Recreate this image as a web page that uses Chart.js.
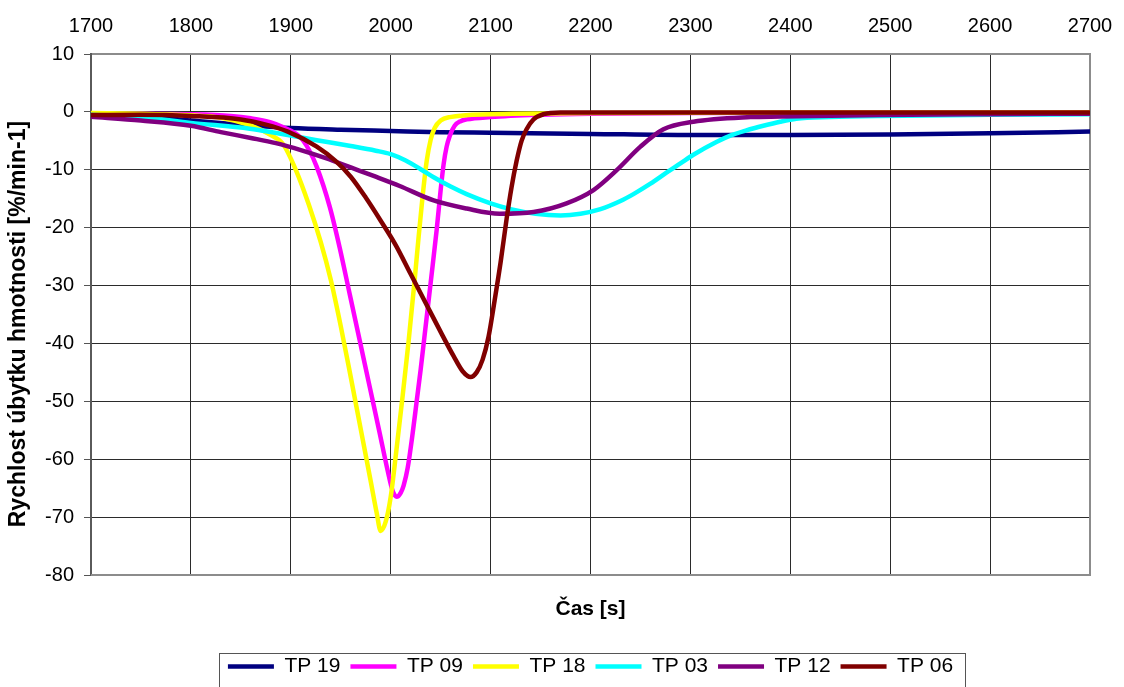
<!DOCTYPE html>
<html lang="cs">
<head>
    <meta charset="UTF-8">
    <title>Rychlost úbytku hmotnosti</title>
    <script src="https://cdn.jsdelivr.net/npm/chart.js"></script>
    <style>
        body { margin: 0; background: #fff; }
        canvas { display: block; }
    </style>
</head>
<body>
    <canvas id="dtgChart" width="1124" height="687"></canvas>

    <script>
        // time [s] and mass-loss rate [%/min-1] for each sample
        const tp19Time = [1700, 1750, 1800, 1850, 1900, 1950, 2000, 2050, 2100, 2200, 2300, 2400, 2500, 2600, 2700];
        const tp19Rate = [-0.3, -0.7, -1.5, -2.2, -2.8, -3.1, -3.3, -3.5, -3.6, -3.8, -4.0, -4.0, -3.9, -3.7, -3.4];

        const tp09Time = [1700, 1750, 1800, 1840, 1860, 1880, 1892, 1909, 1918, 1926, 1939, 1949, 1959, 1969, 1979, 1989, 1997, 2002, 2006, 2010, 2013, 2017, 2022, 2026, 2030, 2034, 2040, 2046, 2050, 2053, 2056, 2059, 2064, 2070, 2076, 2100, 2150, 2200, 2300, 2500, 2700];
        const tp09Rate = [-0.4, -0.3, -0.4, -0.7, -1.1, -1.8, -2.6, -4.3, -6.5, -9.5, -16.4, -23.5, -31.5, -39.5, -47.5, -55.5, -62, -65.5, -66.5, -65.8, -64.5, -61.5, -55.5, -50, -44.5, -38.5, -29.5, -20.4, -13.5, -9.0, -6.0, -4.2, -2.4, -1.6, -1.3, -0.9, -0.5, -0.3, -0.2, -0.1, -0.1];

        const tp18Time = [1700, 1750, 1800, 1830, 1859, 1880, 1892, 1905, 1918, 1930, 1940, 1950, 1960, 1970, 1980, 1986, 1990, 1995, 2000, 2006, 2012, 2018, 2024, 2028, 2032, 2036, 2040, 2044, 2050, 2059, 2100, 2200, 2400, 2700];
        const tp18Rate = [-0.2, -0.3, -0.6, -1.0, -2.3, -4.0, -5.5, -10, -16, -22.5, -29, -37, -45.8, -54.8, -63.8, -69.3, -72.4, -70.8, -66.5, -58, -49, -39.5, -29, -21.5, -14.5, -8.5, -4.8, -2.8, -1.5, -0.9, -0.4, -0.2, -0.1, -0.1];

        const tp03Time = [1700, 1750, 1800, 1859, 1887, 1926, 1960, 1985, 2000, 2015, 2030, 2043, 2060, 2076, 2100, 2120, 2145, 2170, 2190, 2210, 2230, 2243, 2260, 2276, 2290, 2303, 2326, 2340, 2356, 2373, 2390, 2406, 2440, 2490, 2600, 2700];
        const tp03Rate = [-0.5, -0.9, -1.9, -2.9, -3.7, -4.9, -5.9, -6.7, -7.3, -8.4, -9.9, -11.3, -12.9, -14.2, -15.8, -16.8, -17.6, -17.9, -17.6, -16.8, -15.4, -14.2, -12.4, -10.5, -8.9, -7.4, -5.2, -4.1, -3.2, -2.4, -1.7, -1.2, -0.9, -0.7, -0.5, -0.4];

        const tp12Time = [1700, 1750, 1800, 1830, 1860, 1885, 1910, 1935, 1960, 1985, 2009, 2043, 2076, 2109, 2143, 2176, 2203, 2226, 2250, 2273, 2303, 2360, 2390, 2490, 2600, 2700];
        const tp12Rate = [-0.85, -1.5, -2.4, -3.5, -4.5, -5.4, -6.6, -8.0, -9.6, -11.2, -12.8, -15.3, -16.7, -17.6, -17.3, -15.8, -13.5, -10.1, -6.0, -3.0, -1.7, -0.9, -0.8, -0.55, -0.4, -0.3];

        const tp06Time = [1700, 1750, 1800, 1850, 1875, 1897, 1926, 1945, 1960, 1975, 1990, 2005, 2020, 2035, 2050, 2063, 2072, 2080, 2086, 2092, 2098, 2104, 2110, 2116, 2121, 2126, 2131, 2136, 2143, 2153, 2170, 2400, 2700];
        const tp06Rate = [-0.55, -0.5, -0.7, -1.3, -2.2, -3.4, -6.0, -8.5, -11.2, -14.8, -18.8, -23, -28, -33, -38, -42.2, -44.8, -45.8, -45, -42.8, -38.8, -32.6, -26, -18.5, -13, -8.5, -5, -3, -1.3, -0.4, -0.1, -0.1, -0.1];

        const seriesNames = ['TP 19', 'TP 09', 'TP 18', 'TP 03', 'TP 12', 'TP 06'];
        const seriesColors = ['#000080', '#ff00ff', '#ffff00', '#00ffff', '#800080', '#800000'];
        const seriesTimes = [tp19Time, tp09Time, tp18Time, tp03Time, tp12Time, tp06Time];
        const seriesRates = [tp19Rate, tp09Rate, tp18Rate, tp03Rate, tp12Rate, tp06Rate];

        const timeMin = 1700, timeMax = 2700, timeStep = 100;
        const rateMin = -80, rateMax = 10, rateStep = 10;

        const FONT = '"Liberation Sans", Arial, sans-serif';

        const datasets = seriesNames.map((name, i) => ({
            label: name,
            data: seriesTimes[i].map((t, j) => ({ x: t, y: seriesRates[i][j] })),
            borderColor: seriesColors[i],
            backgroundColor: seriesColors[i],
            borderWidth: 4.5,
            borderCapStyle: 'round',
            borderJoinStyle: 'round',
            pointRadius: 0,
            cubicInterpolationMode: 'monotone',
            // later series are painted over earlier ones
            order: seriesNames.length - 1 - i
        }));

        // grey frame on the right/bottom of the plot and a box round the legend
        const framePlugin = {
            id: 'frame',
            beforeDatasetsDraw(chart) {
                const { ctx, chartArea: a } = chart;
                ctx.save();
                ctx.strokeStyle = '#8c8c8c';
                ctx.lineWidth = 2;
                ctx.beginPath();
                ctx.moveTo(a.right, a.top);
                ctx.lineTo(a.right, a.bottom);
                ctx.lineTo(a.left, a.bottom);
                ctx.stroke();
                ctx.restore();
            },
            afterDraw(chart) {
                const hb = chart.legend.legendHitBoxes;
                if (!hb || !hb.length) return;
                const last = hb[hb.length - 1];
                const left = hb[0].left - 9;
                const right = last.left + last.width + 12;
                const top = hb[0].top - 3;
                const ctx = chart.ctx;
                ctx.save();
                ctx.strokeStyle = '#555';
                ctx.lineWidth = 1;
                ctx.strokeRect(Math.round(left) + 0.5, Math.round(top) + 0.5, Math.round(right - left), 60);
                ctx.restore();
            }
        };

        // keep the plot box fixed, labels may hang over its edges
        const fixHeight = h => s => { s.height = h; s.paddingLeft = 0; s.paddingRight = 0; };

        new Chart(document.getElementById('dtgChart'), {
            type: 'line',
            data: { datasets },
            plugins: [framePlugin],
            options: {
                responsive: false,
                animation: false,
                devicePixelRatio: 1,
                layout: { padding: { left: 0, right: 34, top: 0, bottom: 0 } },
                plugins: {
                    tooltip: { enabled: false },
                    legend: {
                        position: 'bottom',
                        fullSize: false,
                        reverse: true,
                        labels: {
                            usePointStyle: true,
                            pointStyle: 'line',
                            pointStyleWidth: 46,
                            padding: 10,
                            color: '#000',
                            font: { family: FONT, size: 21 }
                        }
                    }
                },
                scales: {
                    x: {
                        type: 'linear',
                        position: 'top',
                        min: timeMin,
                        max: timeMax,
                        afterFit: fixHeight(54),
                        ticks: {
                            stepSize: timeStep,
                            padding: 16,
                            color: '#000',
                            font: { family: FONT, size: 20 },
                            callback: v => String(v)
                        },
                        grid: { color: '#2b2b2b', lineWidth: 1, drawTicks: false },
                        border: { color: '#8c8c8c', width: 2 }
                    },
                    x2: {
                        type: 'linear',
                        position: 'bottom',
                        min: timeMin,
                        max: timeMax,
                        afterFit: fixHeight(71),
                        ticks: { display: false },
                        grid: { display: false, drawTicks: false },
                        border: { display: false },
                        title: {
                            display: true,
                            text: 'Čas [s]',
                            color: '#000',
                            padding: { top: 0, bottom: 24 },
                            font: { family: FONT, size: 21, weight: 'bold' }
                        }
                    },
                    y: {
                        min: rateMin,
                        max: rateMax,
                        afterFit: s => { s.width = 91; },
                        ticks: {
                            stepSize: rateStep,
                            padding: 10,
                            color: '#000',
                            font: { family: FONT, size: 20 }
                        },
                        grid: { color: '#2b2b2b', lineWidth: 1, tickLength: 7, tickColor: '#555' },
                        border: { color: '#5a5a5a', width: 2 },
                        title: {
                            display: true,
                            text: 'Rychlost úbytku hmotnosti [%/min-1]   ',
                            color: '#000',
                            padding: { top: 5, bottom: 0 },
                            font: { family: FONT, size: 23, weight: 'bold' }
                        }
                    }
                }
            }
        });
    </script>
</body>
</html>
